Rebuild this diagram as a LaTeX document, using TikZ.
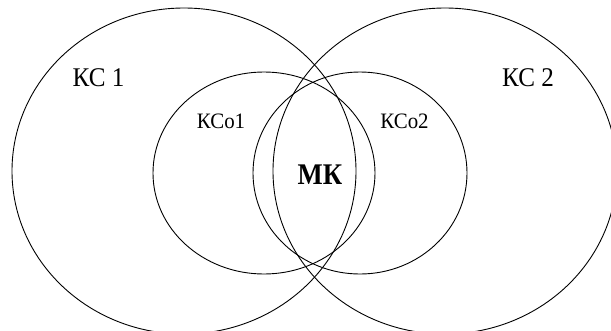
\documentclass[tikz,border=0pt]{standalone}
\usepackage{fontspec}
\setmainfont{Liberation Serif}
\begin{document}
\begin{tikzpicture}[x=1pt,y=-1pt,
  ring/.style={draw=black,line width=0.9pt},
  lbl/.style={inner sep=0pt,anchor=center},
  big/.style={font=\fontsize{27}{27}\selectfont},
  small/.style={font=\fontsize{22}{22}\selectfont},
  mid/.style={font=\bfseries\fontsize{30}{30}\selectfont}]
\useasboundingbox (0,0) rectangle (611,330);
\fill[white] (0,0) rectangle (611,330);
\begin{scope}
\clip (0,0) rectangle (611,330);
\draw[ring] (184,171) ellipse [x radius=172pt, y radius=163pt];
\draw[ring] (445,171) ellipse [x radius=172pt, y radius=163pt];
\draw[ring] (264,173) ellipse [x radius=111pt, y radius=101pt];
\draw[ring] (360,173) ellipse [x radius=107pt, y radius=101pt];
\end{scope}
\node[lbl,big] (kc1) at (98.5,78) {\scalebox{0.93}[1]{КС 1}};
\node[lbl,big] (kc2) at (528,78) {\scalebox{0.93}[1]{КС 2}};
\node[lbl,small] (kco1) at (221,121) {\scalebox{0.95}[1]{КСо1}};
\node[lbl,small] (kco2) at (404.5,121) {\scalebox{0.95}[1]{КСо2}};
\node[lbl,mid] (mk) at (320,175) {\scalebox{0.89}[1]{МК}};
\end{tikzpicture}
\end{document}
